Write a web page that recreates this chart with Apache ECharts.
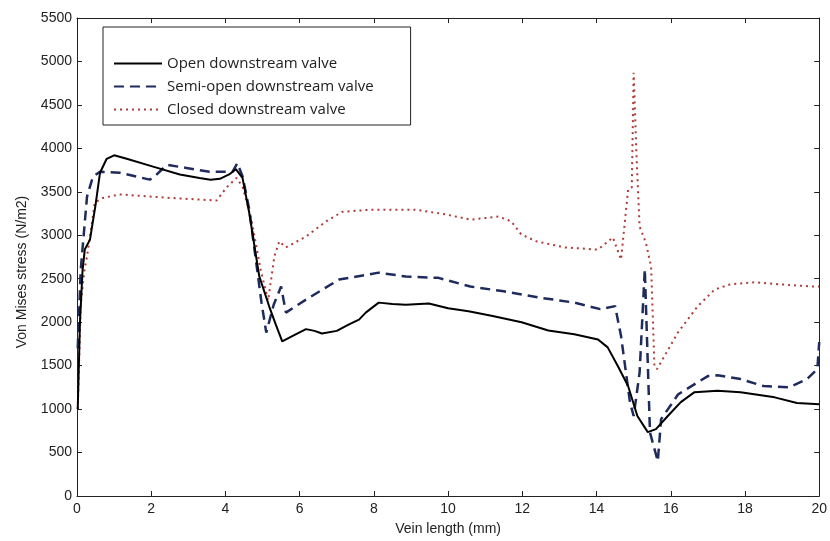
<!DOCTYPE html>
<html>
<head>
<meta charset="utf-8">
<script src="https://cdn.jsdelivr.net/npm/echarts@6/dist/echarts.min.js"></script>
<style>html,body{margin:0;padding:0;background:#fff}#c{width:830px;height:541px}</style>
</head>
<body>
<div id="c"></div>
<script>
// ---- data ----
const seriesNames = ['Open downstream valve', 'Semi-open downstream valve', 'Closed downstream valve'];
const xTicks = [0, 2, 4, 6, 8, 10, 12, 14, 16, 18, 20];
const yTicks = [0, 500, 1000, 1500, 2000, 2500, 3000, 3500, 4000, 4500, 5000, 5500];

const openX = [0.02, 0.08, 0.15, 0.21, 0.35, 0.5, 0.62, 0.8, 1.0, 1.34, 2.05, 2.77, 3.3, 3.6, 3.85, 4.1, 4.28, 4.46, 4.64, 4.91, 5.18, 5.35, 5.53, 5.8, 6.17, 6.4, 6.6, 7.0, 7.33, 7.6, 7.78, 8.13, 8.5, 8.86, 9.48, 10.0, 10.55, 11.2, 11.98, 12.7, 13.4, 14.04, 14.3, 14.58, 14.85, 15.1, 15.38, 15.6, 15.92, 16.27, 16.64, 17.26, 17.88, 18.8, 19.4, 20];
const openY = [1000, 2000, 2600, 2836, 2950, 3350, 3720, 3880, 3920, 3880, 3790, 3700, 3660, 3640, 3650, 3700, 3760, 3660, 3260, 2530, 2180, 1980, 1780, 1840, 1920, 1900, 1870, 1900, 1975, 2030, 2110, 2225, 2210, 2200, 2215, 2160, 2125, 2070, 2000, 1905, 1860, 1800, 1710, 1490, 1265, 920, 735, 770, 920, 1080, 1195, 1210, 1195, 1135, 1070, 1055];

const semiX = [0.02, 0.1, 0.2, 0.27, 0.43, 0.62, 1.15, 1.96, 2.1, 2.42, 2.95, 3.57, 4.19, 4.32, 4.46, 4.64, 4.97, 5.1, 5.3, 5.5, 5.63, 6.17, 7.06, 8.13, 8.86, 9.74, 10.6, 11.5, 12.43, 13.4, 14.1, 14.5, 14.66, 14.9, 15.0, 15.16, 15.3, 15.44, 15.65, 15.74, 16.2, 17.0, 17.26, 17.88, 18.5, 19.2, 19.67, 19.95, 20];
const semiY = [1700, 2600, 3100, 3445, 3675, 3730, 3720, 3640, 3680, 3810, 3775, 3730, 3730, 3830, 3680, 3300, 2230, 1880, 2200, 2410, 2110, 2260, 2490, 2570, 2525, 2510, 2410, 2355, 2285, 2225, 2150, 2185, 1840, 1080, 920, 1420, 2610, 730, 400, 885, 1170, 1380, 1390, 1345, 1265, 1250, 1345, 1460, 1770];

const closedX = [0.02, 0.1, 0.2, 0.27, 0.48, 0.7, 1.15, 2.5, 3.76, 4.03, 4.3, 4.46, 4.7, 4.95, 5.15, 5.32, 5.45, 5.63, 6.17, 6.71, 7.15, 7.95, 9.13, 9.93, 10.6, 11.36, 11.7, 11.97, 12.38, 13.15, 14.04, 14.44, 14.66, 14.76, 14.85, 14.95, 15.0, 15.07, 15.16, 15.33, 15.47, 15.56, 15.63, 16.19, 16.72, 17.18, 17.6, 18.25, 18.95, 19.87, 20];
const closedY = [1000, 2200, 2600, 2755, 3375, 3430, 3470, 3430, 3400, 3550, 3660, 3560, 3180, 2600, 2250, 2760, 2930, 2860, 2985, 3160, 3270, 3295, 3295, 3240, 3180, 3215, 3160, 3010, 2930, 2860, 2835, 2975, 2720, 3145, 3525, 3550, 4870, 3985, 3100, 2915, 2640, 1490, 1460, 1880, 2180, 2375, 2435, 2460, 2435, 2410, 2410];

// ---- chart ----
const pairs = (xs, ys) => xs.map((x, i) => [x, ys[i]]);
const labelFont = { fontFamily: 'Liberation Sans', fontSize: 14, color: '#222' };
const plain = v => String(v);
const axisCommon = {
  axisLine: { show: true, onZero: false, lineStyle: { color: '#222', width: 1 } },
  axisTick: { show: true, inside: true, length: 5, lineStyle: { color: '#222' } },
  splitLine: { show: false }
};

const chart = echarts.init(document.getElementById('c'), null, { renderer: 'canvas' });
chart.setOption({
  backgroundColor: '#fff',
  animation: false,
  grid: { left: 77, right: 8, top: 18, bottom: 44, containLabel: false },
  legend: {
    orient: 'vertical', left: 103, top: 27,
    padding: [29, 37, 8, 10], itemGap: 8, itemWidth: 48, itemHeight: 14,
    backgroundColor: '#fff', borderColor: '#222', borderWidth: 1, borderRadius: 0,
    itemStyle: { color: 'rgba(0,0,0,0)', borderWidth: 0, borderColor: 'rgba(0,0,0,0)' },
    textStyle: { fontFamily: 'Open Sans', fontSize: 15, color: '#222' },
    data: seriesNames
  },
  xAxis: [
    Object.assign({
      type: 'value', min: xTicks[0], max: xTicks[xTicks.length - 1], interval: xTicks[1] - xTicks[0],
      position: 'bottom',
      axisLabel: Object.assign({ margin: 6, formatter: plain }, labelFont),
      name: 'Vein length (mm)', nameLocation: 'middle', nameGap: 26,
      nameTextStyle: labelFont
    }, axisCommon),
    Object.assign({
      type: 'value', min: xTicks[0], max: xTicks[xTicks.length - 1], interval: xTicks[1] - xTicks[0],
      position: 'top', axisLabel: { show: false }
    }, axisCommon)
  ],
  yAxis: [
    Object.assign({
      type: 'value', min: yTicks[0], max: yTicks[yTicks.length - 1], interval: yTicks[1] - yTicks[0],
      position: 'left',
      axisLabel: Object.assign({ margin: 5, formatter: plain }, labelFont)
    }, axisCommon),
    Object.assign({
      type: 'value', min: yTicks[0], max: yTicks[yTicks.length - 1], interval: yTicks[1] - yTicks[0],
      position: 'right', axisLabel: { show: false }
    }, axisCommon)
  ],
  graphic: [{
    type: 'text', x: 22, y: 272, rotation: Math.PI / 2,
    style: {
      text: 'Von Mises stress (N/m2)', fontFamily: 'Liberation Sans', fontSize: 14,
      fill: '#222', textAlign: 'center', textVerticalAlign: 'middle'
    }
  }],
  series: [
    {
      name: seriesNames[0], type: 'line', symbol: 'none', xAxisIndex: 0, yAxisIndex: 0,
      data: pairs(openX, openY), z: 3,
      lineStyle: { color: '#000', width: 2, type: 'solid' }, itemStyle: { color: '#000' }
    },
    {
      name: seriesNames[1], type: 'line', symbol: 'none', xAxisIndex: 0, yAxisIndex: 0,
      data: pairs(semiX, semiY), z: 2,
      lineStyle: { color: '#1e2b5c', width: 2.5, type: [10, 6] }, itemStyle: { color: '#1e2b5c' }
    },
    {
      name: seriesNames[2], type: 'line', symbol: 'none', xAxisIndex: 0, yAxisIndex: 0,
      data: pairs(closedX, closedY), z: 1,
      lineStyle: { color: '#b03a3a', width: 2, type: [2, 4] }, itemStyle: { color: '#b03a3a' }
    }
  ]
});
</script>
</body>
</html>
